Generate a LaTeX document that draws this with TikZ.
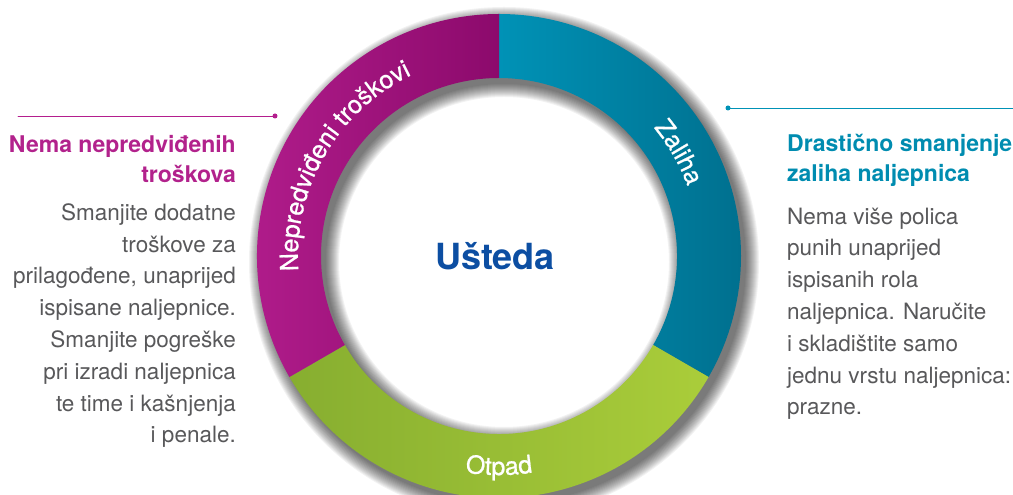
\documentclass[tikz,border=0pt]{standalone}
\usepackage{fontspec}
\setmainfont{TeX Gyre Heros}
\newfontfamily\ringfam{TeX Gyre Heros}[UprightFeatures = {FakeBold = 0.8}]
\usetikzlibrary{calc}
\usetikzlibrary{decorations.text}

\definecolor{magL}{RGB}{180,30,142}
\definecolor{magR}{RGB}{140,10,108}
\definecolor{tealL}{RGB}{0,146,182}
\definecolor{tealR}{RGB}{0,112,143}
\definecolor{greenL}{RGB}{135,174,48}
\definecolor{greenR}{RGB}{170,205,58}
\definecolor{headmag}{RGB}{178,34,140}
\definecolor{headteal}{RGB}{0,140,176}
\definecolor{bodygray}{RGB}{88,88,90}
\definecolor{titleblue}{RGB}{12,78,162}

\newcommand\ringfont{\ringfam\fontsize{25}{25}\selectfont\color{white}}

\begin{document}
\begin{tikzpicture}[x = 1pt, y = 1pt, line join = round, line cap = round,
  ringlabel/.style = {decorate, decoration = {text along path,
    text align = center, text = {|\ringfont|#1}}},
  head/.style = {font = \fontsize{23}{30.5}\selectfont\bfseries, inner sep = 0},
  body/.style = {font = \fontsize{22.5}{31.8}\selectfont, text = bodygray,
    inner sep = 0}]
  \useasboundingbox (0, 0) rectangle (1013, 495);
  \coordinate (C) at (499, 239);

  % soft shadow
  \foreach \k in {0, ..., 13}
    \fill[black, opacity = .05, even odd rule] ([shift = {(5, -6)}] C)
    circle[radius = 242 + \k] circle[radius = 178 - \k];

  % ring
  \foreach \a/\b/\cl/\cr in {90/-30/tealL/tealR, -30/-150/greenL/greenR,
    210/90/magL/magR}
    \shade[left color = \cl, right color = \cr] ([shift = {(C)}] \a:242)
    arc[start angle = \a, end angle = \b, radius = 242]
    -- ([shift = {(C)}] \b:178)
    arc[start angle = \b, end angle = \a, radius = 178] -- cycle;

  \path[ringlabel = {Nepredviđeni troškovi}] ([shift = {(C)}] 210:201)
  arc[start angle = 210, end angle = 90, radius = 201];
  \path[ringlabel = Zaliha] ([shift = {(C)}] 90:201)
  arc[start angle = 90, end angle = -30, radius = 201];
  \path[ringlabel = Otpad] ([shift = {(C)}] 210:219)
  arc[start angle = 210, end angle = 330, radius = 219];

  \node[font = \fontsize{36}{36}\selectfont\bfseries, text = titleblue]
  (usteda) at ([xshift = -4] C) {Ušteda};

  % left side (base = last line)
  \coordinate (magStart) at (18, 379);
  \coordinate (magDot) at (275, 379);
  \draw[magL, line width = .8] (magStart) -- (magDot);
  \fill[magL] (magDot) circle[radius = 2.5];

  \node[head, text = headmag, align = right, anchor = base east] (costHead)
  at (236, 312) {Nema nepredviđenih\\troškova};
  \node[body, align = right, anchor = base east] (costBody) at (236, 52)
  {Smanjite dodatne\\troškove za\\prilagođene, unaprijed\\ispisane
    naljepnice.\\Smanjite pogreške\\pri izradi naljepnica\\te time i
    kašnjenja\\i penale.};

  % right side
  \coordinate (tealDot) at (728, 387);
  \coordinate (tealEnd) at (1013, 387);
  \draw[tealL, line width = .8] (tealDot) -- (tealEnd);
  \fill[tealL] (tealDot) circle[radius = 2.5];

  \node[head, text = headteal, align = left, anchor = base west] (stockHead)
  at (787, 313) {Drastično smanjenje\\zaliha naljepnica};
  \node[body, align = left, anchor = base west] (stockBody) at (787, 80)
  {Nema više polica\\punih unaprijed\\ispisanih rola\\naljepnica.
    Naručite\\i skladištite samo\\jednu vrstu naljepnica:\\prazne.};
\end{tikzpicture}
\end{document}
